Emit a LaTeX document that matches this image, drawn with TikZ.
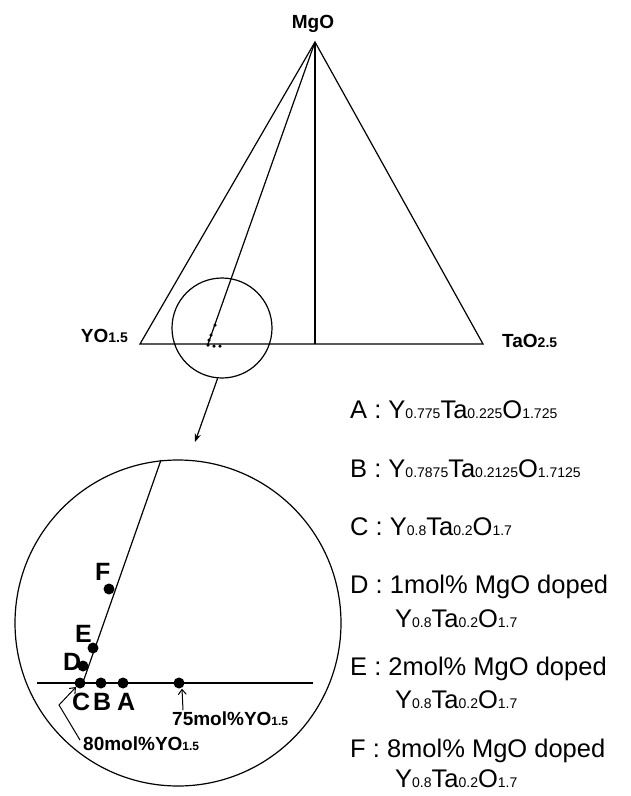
\documentclass[tikz,border=0pt]{standalone}
\usepackage{fontspec}
\setmainfont{Liberation Sans}
\usepackage{tikz}
\usetikzlibrary{arrows.meta, calc}
\definecolor{ink}{RGB}{0,0,0}
\newcommand{\sbs}[2][14]{{\fontsize{#1}{#1}\selectfont #2}}
\newcommand{\ytao}{Y\sbs{0.8}Ta\sbs{0.2}O\sbs{1.7}}
\tikzset{
  edge/.style={line width=1.2pt, color=ink},
  lens/.style={circle, draw=ink, line width=1.2pt, inner sep=0pt},
  dot/.style={circle, fill=ink, inner sep=0pt, minimum size=11pt},
  speck/.style={circle, fill=ink, inner sep=0pt, minimum size=3.5pt},
  corner/.style={font=\fontsize{19}{19}\selectfont\bfseries, inner sep=0pt},
  ptlbl/.style={font=\fontsize{25}{25}\selectfont\bfseries, inner sep=0pt, anchor=base west},
  mollbl/.style={font=\fontsize{19}{19}\selectfont\bfseries, inner sep=0pt, anchor=base west},
  legend/.style={font=\fontsize{25.5}{25.5}\selectfont, inner sep=0pt, anchor=base west},
  arrow/.style={-Stealth, line width=1.2pt, color=ink},
  pointer/.style={-{Straight Barb[length=5pt,width=8pt]}, line width=1pt, color=ink}
}

\begin{document}
\begin{tikzpicture}[x=1pt, y=-1pt]
    \useasboundingbox (0,0) rectangle (630,796);
    % ternary triangle
    \coordinate (mgo) at (315,42);
    \coordinate (yo) at (140,344);
    \coordinate (tao) at (483,344);
    \coordinate (foot) at (315,344);
    \coordinate (base80) at (208,344);
    \draw[edge] (mgo) -- (yo) -- (tao) -- cycle;
    \draw[edge] (mgo) -- (foot);
    \draw[edge] (mgo) -- (base80);
    \node[corner, anchor=base] (mgolbl) at (313,28) {MgO};
    \node[corner, anchor=base east] (yolbl) at (128,342) {YO\sbs[14]{1.5}};
    \node[corner, anchor=base west] (taolbl) at (502,347) {TaO\sbs[14]{2.5}};
    \foreach \px/\py in {208/345, 214/346, 220/346, 209/340, 211/335, 215/325}
      \node[speck] at (\px,\py) {};
    \node[lens, minimum size=100pt] (zoomc) at (222,328) {};
    \coordinate (arrtip) at (195,442);
    \draw[arrow] (zoomc.265) -- (arrtip);
    % enlarged view
    \node[lens, minimum size=326pt] (bigc) at (178,623) {};
    \coordinate (hl) at (37,683);
    \coordinate (hr) at (313,683);
    \coordinate (ltop) at (161,460);
    \coordinate (lbot) at (82,685);
    \draw[edge] (hl) -- (hr);
    \draw[edge] (ltop) -- (lbot);
    \node[dot] (c) at (80,683) {};
    \node[dot] (b) at (101,683) {};
    \node[dot] (a) at (123,683) {};
    \node[dot] (m75) at (179,683) {};
    \node[dot] (d) at (83,666) {};
    \node[dot] (e) at (93,648) {};
    \node[dot] (f) at (109,589) {};
    \node[ptlbl] (flbl) at (95,580) {F};
    \node[ptlbl] (elbl) at (75,642) {E};
    \node[ptlbl] (dlbl) at (63,670) {D};
    \node[ptlbl] (clbl) at (72,710) {C};
    \node[ptlbl] (blbl) at (93,710) {B};
    \node[ptlbl] (albl) at (117,710) {A};
    \node[mollbl] (lab75) at (172,725) {75mol\%YO\sbs[12]{1.5}};
    \node[mollbl] (lab80) at (83,750) {80mol\%YO\sbs[12]{1.5}};
    \coordinate (bend80) at (59,705);
    \draw[pointer] ($(lab80.north west)+(-3,4)$) -- (bend80) -- (c.225);
    \draw[pointer] ($(lab75.north west)+(11,-1)$) -- ([xshift=3pt]m75.south);
    % legend
    \node[legend] (leg-a) at (350,418) {A : Y\sbs{0.775}Ta\sbs{0.225}O\sbs{1.725}};
    \node[legend] (leg-b) at (350,477) {B : Y\sbs{0.7875}Ta\sbs{0.2125}O\sbs{1.7125}};
    \node[legend] (leg-c) at (350,535) {C : \ytao};
    \node[legend] (leg-d) at (350,593) {D : 1mol\% MgO doped};
    \node[legend] (leg-d2) at (395,627) {\ytao};
    \node[legend] (leg-e) at (350,675) {E : 2mol\% MgO doped};
    \node[legend] (leg-e2) at (395,708) {\ytao};
    \node[legend] (leg-f) at (350,757) {F : 8mol\% MgO doped};
    \node[legend] (leg-f2) at (395,787) {\ytao};
  \end{tikzpicture}
\end{document}
